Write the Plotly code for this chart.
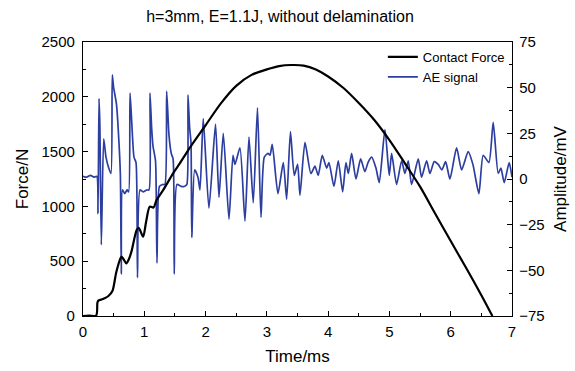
import plotly.graph_objects as go

# Contact force (N) vs time (ms)
force_time = [0, 0.1, 0.215, 0.235, 0.25, 0.3, 0.35, 0.41, 0.48, 0.54, 0.6, 0.625, 0.66, 0.707,
              0.75, 0.79, 0.876, 0.91, 0.98, 1.03, 1.09, 1.15, 1.2, 1.31, 1.47, 1.58, 1.75, 2.0,
              2.25, 2.5, 2.75, 3.0, 3.2, 3.4, 3.6, 3.8, 4.0, 4.25, 4.5, 4.75, 5.0, 5.25, 5.5,
              5.75, 6.0, 6.25, 6.5, 6.68]
force = [0, 3, 5, 120, 140, 150, 162, 180, 228, 392, 510, 541, 520, 480,
         520, 587, 785, 805, 723, 860, 998, 990, 1058, 1150, 1302, 1393, 1540, 1740,
         1940, 2100, 2200, 2250, 2280, 2290, 2285, 2250, 2185, 2080, 1943, 1790, 1605, 1395, 1180,
         930, 684, 440, 190, 0]

# AE signal amplitude (mV) vs time (ms)
ae_time = [0.00, 0.06, 0.12, 0.18, 0.225, 0.245, 0.261, 0.275, 0.299, 0.338, 0.375, 0.42, 0.457,
           0.478, 0.50, 0.546, 0.587, 0.610, 0.625, 0.644, 0.68, 0.72, 0.745, 0.767, 0.794, 0.832,
           0.865, 0.889, 0.93, 0.98, 1.04, 1.077, 1.093, 1.12, 1.142, 1.183, 1.207, 1.248, 1.30,
           1.336, 1.365, 1.403, 1.44, 1.47, 1.489, 1.533, 1.60, 1.66, 1.695, 1.713, 1.74, 1.762,
           1.775, 1.822, 1.876, 1.909, 1.962, 2.055, 2.162, 2.219, 2.289, 2.382, 2.447, 2.48,
           2.561, 2.643, 2.708, 2.778, 2.847, 2.904, 2.958, 3.018, 3.051, 3.088, 3.181, 3.268,
           3.323, 3.385, 3.447, 3.502, 3.54, 3.622, 3.719, 3.785, 3.838, 3.904, 3.976, 4.013,
           4.095, 4.165, 4.237, 4.29, 4.33, 4.383, 4.454, 4.53, 4.60, 4.65, 4.71, 4.78, 4.834,
           4.927, 4.997, 5.036, 5.117, 5.199, 5.253, 5.307, 5.362, 5.47, 5.525, 5.607, 5.661,
           5.731, 5.796, 5.856, 5.917, 5.987, 6.096, 6.178, 6.285, 6.362, 6.46, 6.53, 6.623,
           6.693, 6.775, 6.819, 6.873, 6.954, 7.0]
ae_amp = [1.5, 1.0, 2.0, 1.0, 1.5, -19, 44, 30, -36, 22, 12, 6, 3,
          57, 50, 41, 20, 2, -52, -6, -8, -6, -7, 47, 32, 12,
          9, -54, -6, -7, -6, -6, 47, 28, 18, 10, -46, -4, -3,
          -3, 48, 24, 14, 11, -52, -3, -4, -4, -3, 46, 28, 20,
          -32, 5, 1, -6, 33, -16, 30, -10, 25, -22, 13, 8,
          17, -23, 23, -13, 39, -21, 12, 14, 13, 19, -8, 9,
          -11, 26, 2, 8, -9, 20, 3, 7, 2, 13, 6, 9,
          -4, 10, -7, 9, 3, 14, 0, 11, 4, 9, 12, 6, -2,
          27, 2, 14, -3, 10, 3, 10, -3, 11, 1, 10, 3,
          9.5, 8, 5, 9.5, 0, 17, 5, 15, 8, -8, 13, 9,
          31, 3, 6, -2, 9, 1]

x_ticks = [0, 1, 2, 3, 4, 5, 6, 7]
force_ticks = [0, 500, 1000, 1500, 2000, 2500]
amp_ticks = [-75, -50, -25, 0, 25, 50, 75]

FONT = "Liberation Sans, Arial, sans-serif"
AE_COLOR = "rgb(44,62,160)"

fig = go.Figure()
fig.add_trace(go.Scatter(x=ae_time, y=ae_amp, mode="lines", name="AE signal",
                         line=dict(color=AE_COLOR, width=1.7, shape="spline", smoothing=0.6),
                         yaxis="y", legendrank=2))
fig.add_trace(go.Scatter(x=force_time, y=force, mode="lines", name="Contact Force",
                         line=dict(color="black", width=2.2, shape="spline", smoothing=0.8),
                         yaxis="y2", legendrank=1))

axis_common = dict(showline=True, linecolor="black", linewidth=1.3, ticks="inside",
                   tickcolor="black", ticklen=5, showgrid=False, zeroline=False,
                   automargin=False,
                   tickfont=dict(family=FONT, size=15, color="black"))

fig.update_layout(
    width=575, height=371,
    margin=dict(l=83, r=63, t=42, b=55, autoexpand=False),
    paper_bgcolor="white", plot_bgcolor="white",
    font=dict(family=FONT, color="black"),
    title=dict(text="h=3mm, E=1.1J, without delamination", x=280/575, xref="container",
               xanchor="center", y=1 - 16/371, yref="container", yanchor="middle",
               font=dict(family=FONT, size=16, color="black")),
    xaxis=dict(range=[0, 7], tickvals=x_ticks, mirror=True, ticklabelstandoff=2,
               minor=dict(dtick=0.5, ticks="inside", ticklen=3, tickcolor="black"),
               title=dict(text="Time/ms", font=dict(family=FONT, size=17), standoff=10),
               **axis_common),
    yaxis=dict(range=[-75, 75], tickvals=amp_ticks, side="right", ticklabelstandoff=3,
               minor=dict(dtick=12.5, ticks="inside", ticklen=3, tickcolor="black"),
               title=dict(text="Amplitude/mV", font=dict(family=FONT, size=17), standoff=10),
               **axis_common),
    yaxis2=dict(range=[0, 2500], tickvals=force_ticks, side="left", overlaying="y",
                ticklabelstandoff=4,
                minor=dict(dtick=250, ticks="inside", ticklen=3, tickcolor="black"),
                title=dict(text="Force/N", font=dict(family=FONT, size=17), standoff=8),
                **axis_common),
    legend=dict(x=0.995, y=1.0, xanchor="right", yanchor="top", bgcolor="rgba(0,0,0,0)",
                font=dict(family=FONT, size=13, color="black"), tracegroupgap=0,
                itemwidth=30),
    showlegend=True,
)

fig.write_html("out.html")
